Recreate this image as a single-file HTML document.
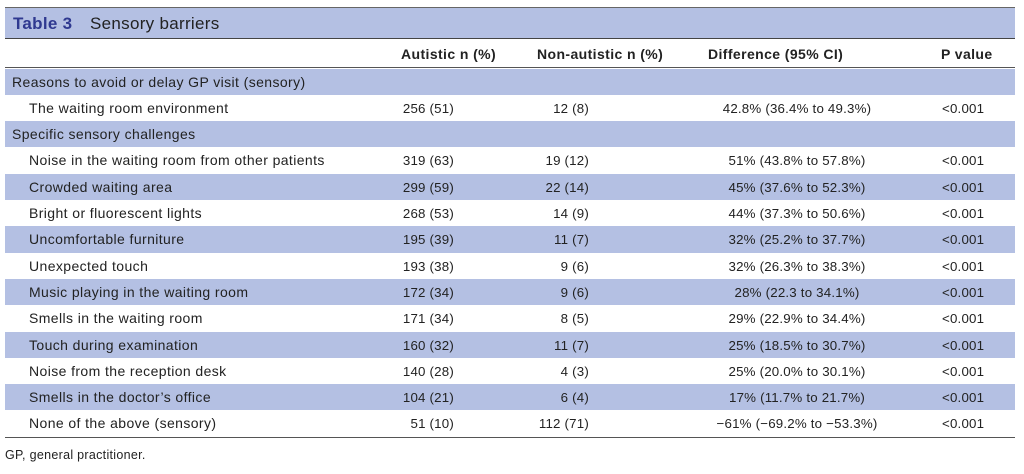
<!DOCTYPE html>
<html><head><meta charset="utf-8"><style>
body{margin:0;background:#fff;width:1024px;height:474px;overflow:hidden;font-family:"Liberation Sans",Arial,sans-serif;color:#222;}
#t{position:absolute;left:5px;top:7px;width:1010px;height:32px;background:#b4c0e3;border-top:1px solid #666;border-bottom:1px solid #444;box-sizing:border-box;}
#t span{position:absolute;top:6px;font-size:17px;letter-spacing:0.3px}
.r{position:absolute;left:5px;width:1010px;height:26.3px;font-size:13.3px;letter-spacing:0.2px}
.r div{position:absolute;top:6px;white-space:nowrap;}
.r .l{font-size:14px;letter-spacing:0.4px;top:5px}
.b{background:#b4c0e3;}
.h div{font-weight:bold;font-size:14px;letter-spacing:0.4px}
.a{right:561px;}
.n{right:426px;}
.d{left:792px;transform:translateX(-50%);}
.p{left:937px;}
</style></head><body>
<div id="t"><span style="left:8px;color:#2f3990;font-weight:bold">Table 3</span><span style="left:85px">Sensory barriers</span></div>
<div class="r h" style="top:40px;height:28px;border-bottom:1px solid #555;box-sizing:border-box"><div style="left:396px;top:6px">Autistic n (%)</div><div style="left:532px;top:6px">Non-autistic n (%)</div><div style="left:703px;top:6px">Difference (95% CI)</div><div style="left:936px;top:6px">P value</div></div>
<div id="rows"></div>
<script>
var R=[
[1,"Reasons to avoid or delay GP visit (sensory)","","","","",1],
[0,"The waiting room environment","256 (51)","12 (8)","42.8% (36.4% to 49.3%)","<0.001"],
[1,"Specific sensory challenges","","","","",1],
[0,"Noise in the waiting room from other patients","319 (63)","19 (12)","51% (43.8% to 57.8%)","<0.001"],
[1,"Crowded waiting area","299 (59)","22 (14)","45% (37.6% to 52.3%)","<0.001"],
[0,"Bright or fluorescent lights","268 (53)","14 (9)","44% (37.3% to 50.6%)","<0.001"],
[1,"Uncomfortable furniture","195 (39)","11 (7)","32% (25.2% to 37.7%)","<0.001"],
[0,"Unexpected touch","193 (38)","9 (6)","32% (26.3% to 38.3%)","<0.001"],
[1,"Music playing in the waiting room","172 (34)","9 (6)","28% (22.3 to 34.1%)","<0.001"],
[0,"Smells in the waiting room","171 (34)","8 (5)","29% (22.9% to 34.4%)","<0.001"],
[1,"Touch during examination","160 (32)","11 (7)","25% (18.5% to 30.7%)","<0.001"],
[0,"Noise from the reception desk","140 (28)","4 (3)","25% (20.0% to 30.1%)","<0.001"],
[1,"Smells in the doctor’s office","104 (21)","6 (4)","17% (11.7% to 21.7%)","<0.001"],
[0,"None of the above (sensory)","51 (10)","112 (71)","−61% (−69.2% to −53.3%)","<0.001"]];
var h="";
R.forEach(function(r,i){var top=68.5+i*26.3;
h+='<div class="r'+(r[0]?' b':'')+'" style="top:'+top+'px"><div class="l" style="left:'+(r[6]?7:24)+'px">'+r[1]+'</div><div class="a">'+r[2]+'</div><div class="n">'+r[3]+'</div><div class="d">'+r[4]+'</div><div class="p">'+r[5].replace('<','&lt;')+'</div></div>';});
h+='<div style="position:absolute;left:5px;top:437px;width:1010px;border-top:1px solid #555"></div>';
h+='<div style="position:absolute;left:5px;top:448px;font-size:12.5px;letter-spacing:0.3px">GP, general practitioner.</div>';
document.getElementById('rows').innerHTML=h;
</script>
</body></html>
